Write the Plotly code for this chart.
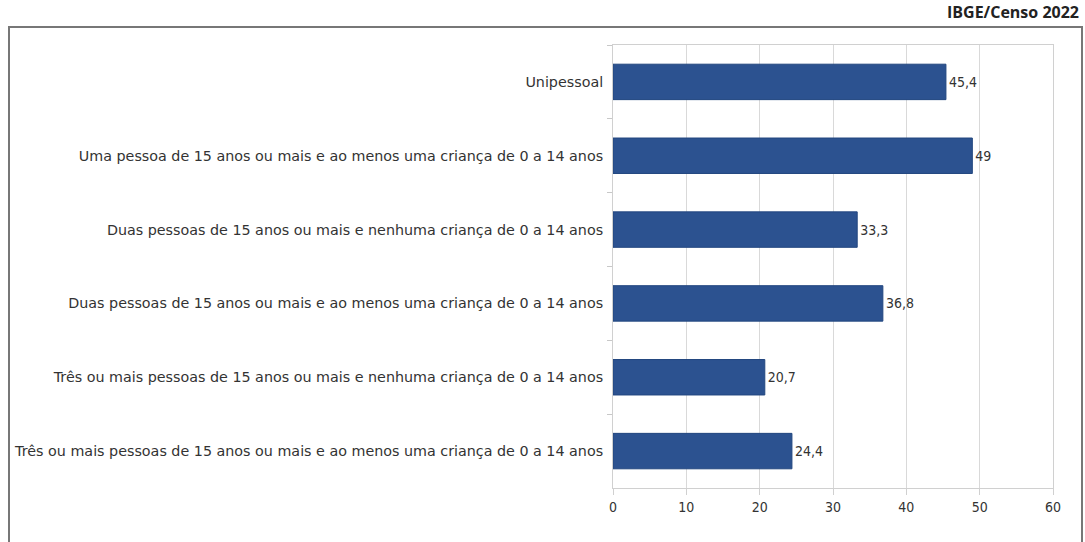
import plotly.graph_objects as go

categories = [
    "Unipessoal",
    "Uma pessoa de 15 anos ou mais e ao menos uma criança de 0 a 14 anos",
    "Duas pessoas de 15 anos ou mais e nenhuma criança de 0 a 14 anos",
    "Duas pessoas de 15 anos ou mais e ao menos uma criança de 0 a 14 anos",
    "Três ou mais pessoas de 15 anos ou mais e nenhuma criança de 0 a 14 anos",
    "Três ou mais pessoas de 15 anos ou mais e ao menos uma criança de 0 a 14 anos",
]
values = [45.4, 49, 33.3, 36.8, 20.7, 24.4]
value_labels = ["45,4", "49", "33,3", "36,8", "20,7", "24,4"]
x_ticks = [0, 10, 20, 30, 40, 50, 60]
source = "IBGE/Censo 2022"

W, H = 1085, 542
L, R, T, B = 613, 32, 45, 54
pw, ph = W - L - R, H - T - B

def px_x(x):
    return (x - L) / pw

def px_y(y):
    return (H - B - y) / ph

fig = go.Figure(go.Bar(
    x=values,
    y=categories,
    orientation="h",
    marker=dict(color="#2C5290", line=dict(color="#22467f", width=1)),
    text=value_labels,
    textposition="outside",
    textfont=dict(family="DejaVu Sans Condensed, DejaVu Sans", size=14, color="#333333"),
    cliponaxis=False,
))

fig.update_layout(
    width=W, height=H,
    margin=dict(l=L, r=R, t=T, b=B),
    paper_bgcolor="white",
    plot_bgcolor="white",
    bargap=0.52,
    showlegend=False,
    xaxis=dict(
        range=[0, 60], tickvals=x_ticks, ticktext=[str(t) for t in x_ticks],
        showgrid=True, gridcolor="#d9d9d9", gridwidth=1,
        zeroline=False, showline=True, linecolor="#d0d0d0", mirror=True,
        ticks="outside", ticklen=6, tickcolor="#d0d0d0",
        tickfont=dict(family="DejaVu Sans Condensed, DejaVu Sans", size=14, color="#333333"),
        fixedrange=True,
    ),
    yaxis=dict(
        autorange="reversed",
        showline=True, linecolor="#d0d0d0", mirror=True,
        ticks="outside", ticklen=5, tickcolor="#c8c8c8", tickson="boundaries",
        tickfont=dict(family="DejaVu Sans", size=14.3, color="#333333"),
        ticklabelstandoff=6,
        showgrid=False,
    ),
    shapes=[dict(
        type="rect", xref="paper", yref="paper",
        x0=px_x(9), x1=px_x(1082), y0=px_y(560), y1=px_y(27),
        line=dict(color="#777777", width=2), fillcolor="rgba(0,0,0,0)", layer="below",
    )],
    annotations=[dict(
        text="<b>" + source + "</b>", xref="paper", yref="paper",
        x=px_x(1081), y=px_y(12), xanchor="right", yanchor="middle",
        showarrow=False,
        font=dict(family="Open Sans", size=16, color="#222222"),
    )],
)

fig.write_html("out.html")
